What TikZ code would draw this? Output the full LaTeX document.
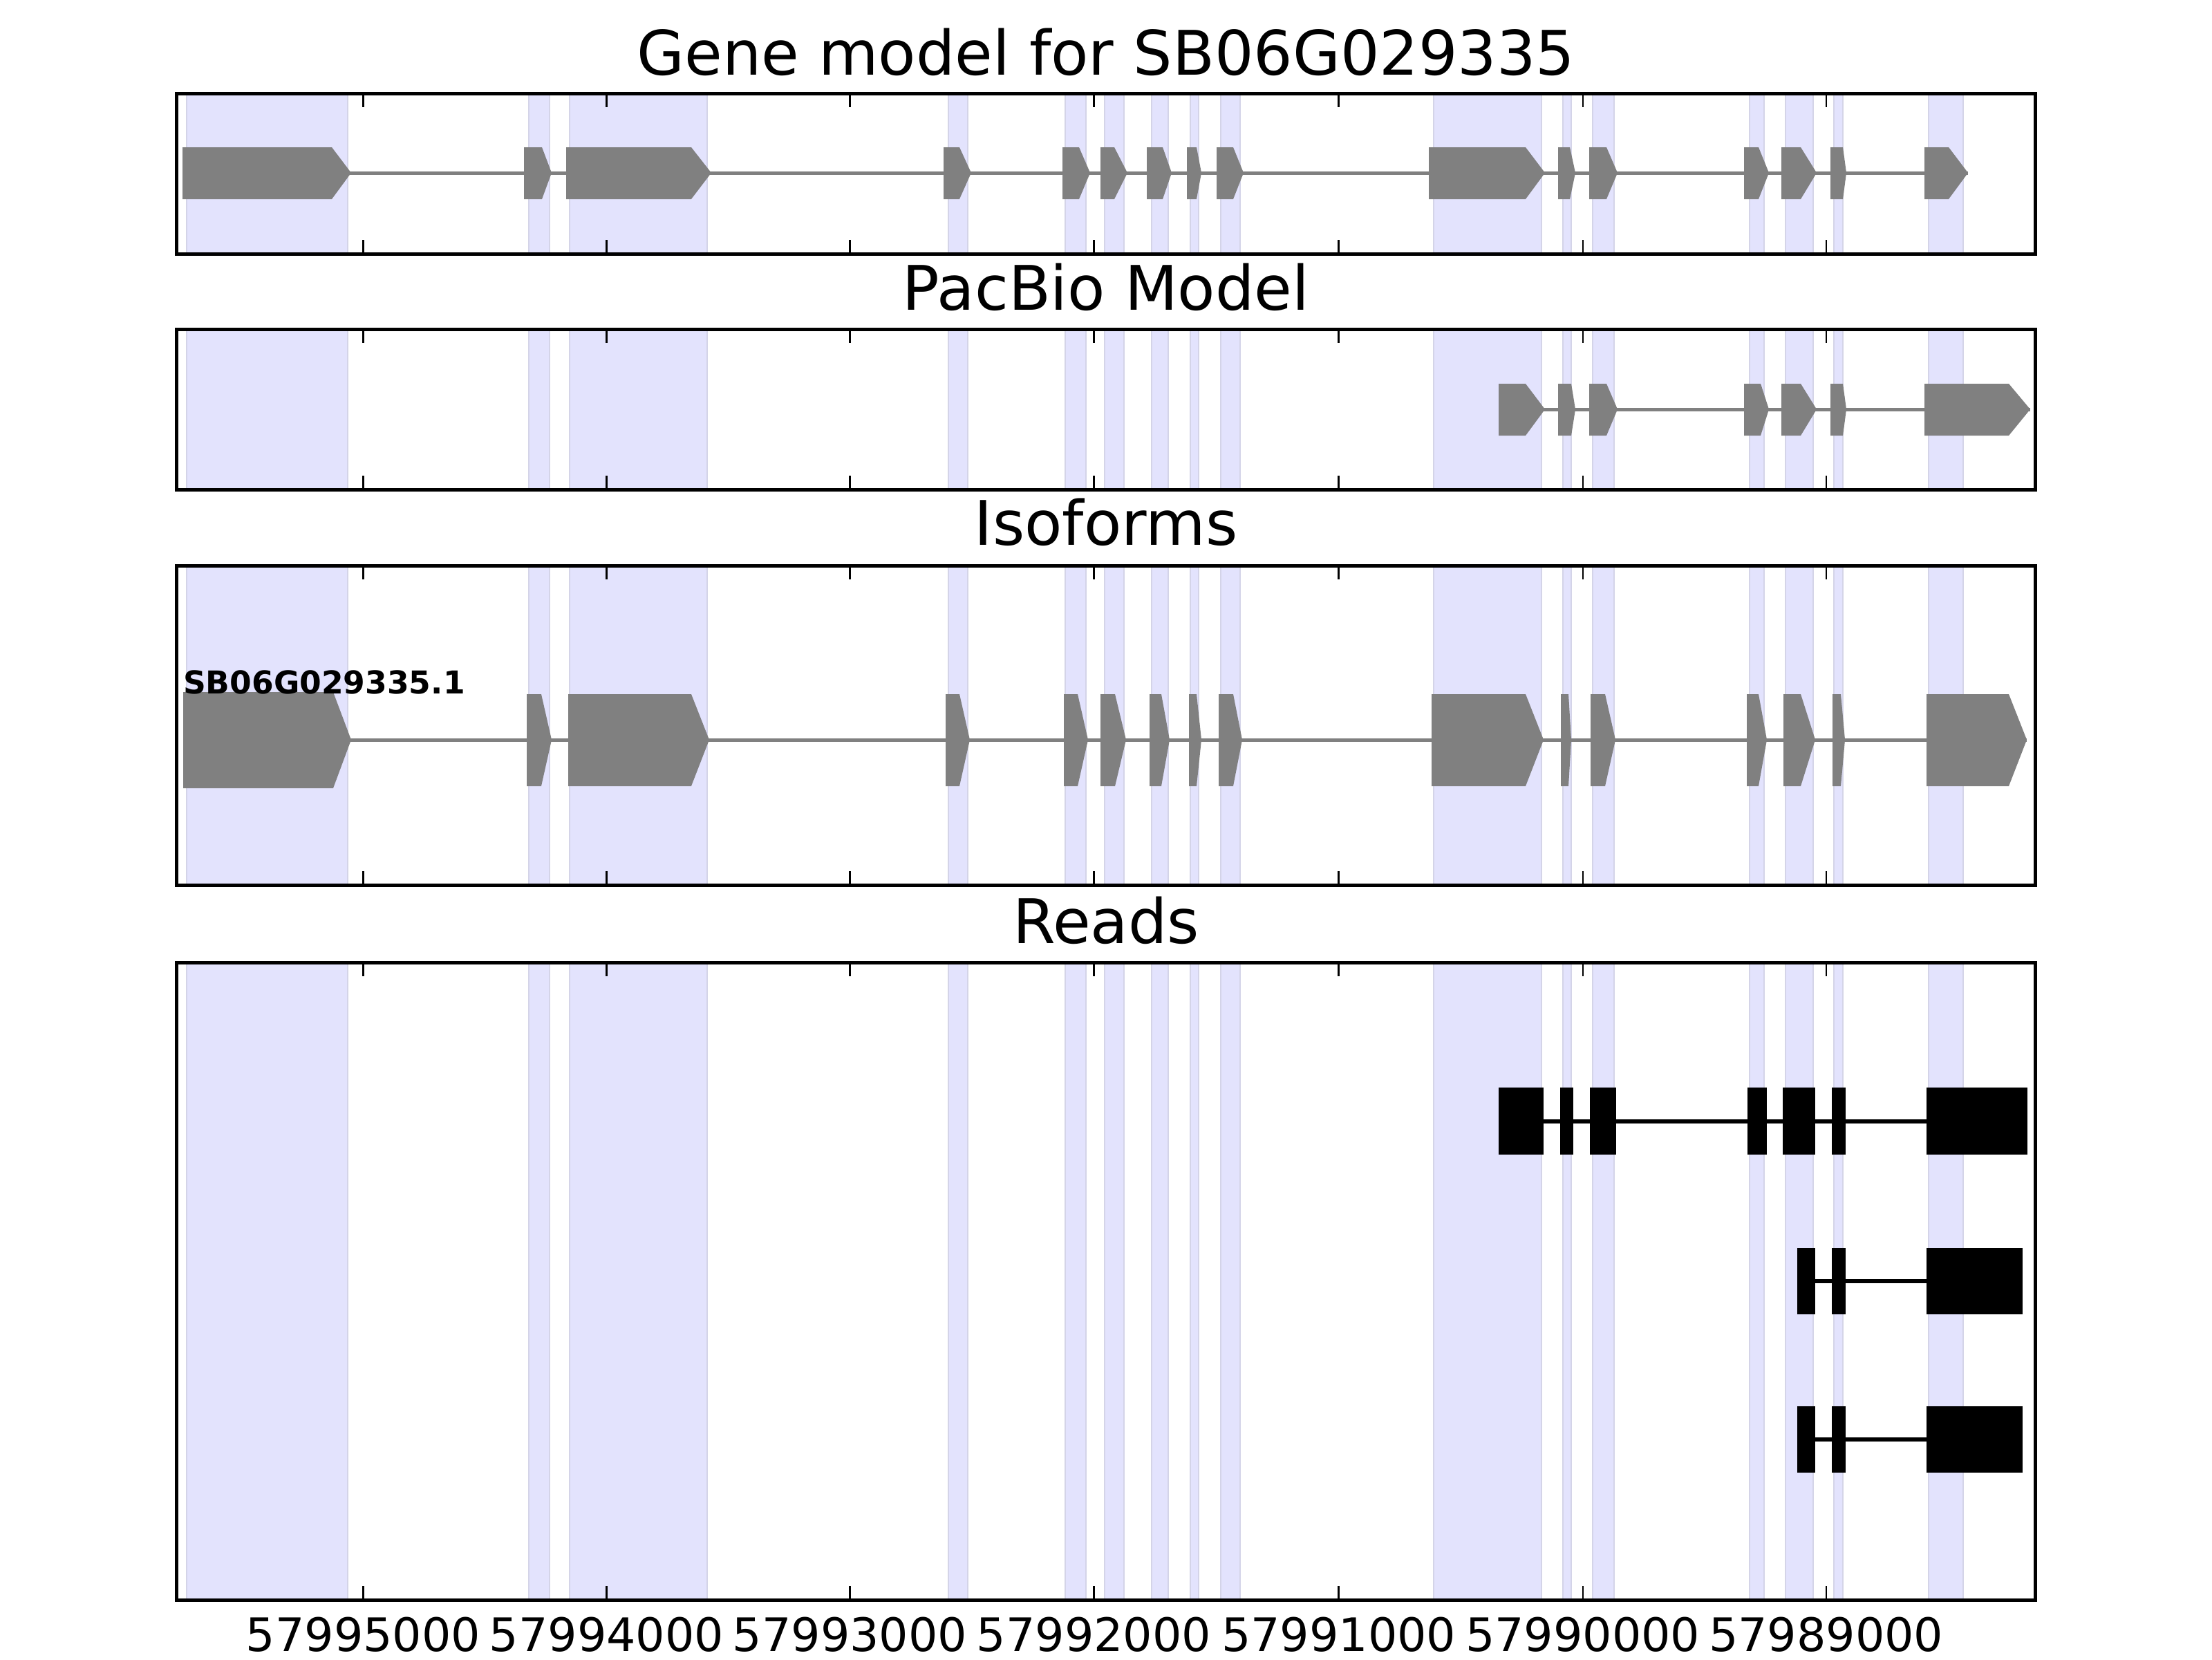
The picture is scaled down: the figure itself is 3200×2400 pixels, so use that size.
\documentclass[tikz,border=0pt]{standalone}
\usepackage{fontspec}
\setmainfont{DejaVu Sans}
\usetikzlibrary{positioning}

\definecolor{bandfill}{RGB}{227,227,253}
\definecolor{bandedge}{RGB}{212,212,232}
\definecolor{exongray}{RGB}{128,128,128}

\tikzset{
  band/.style={fill=bandfill, draw=bandedge, line width=0.45pt},
  exon/.style={fill=exongray},
  intron/.style={draw=exongray, line width=0.9pt},
  readexon/.style={fill=black},
  readline/.style={draw=black, line width=1.1pt},
  frame/.style={draw=black, line width=0.9pt},
  tickmark/.style={draw=black, line width=0.45pt},
  paneltitle/.style={anchor=base, inner sep=0pt, font=\fontsize{16}{19}\selectfont},
  ticklabel/.style={anchor=base, inner sep=0pt, font=\fontsize{12}{14}\selectfont},
  isolabel/.style={anchor=base west, inner sep=0pt, font=\bfseries\fontsize{8.2}{10}\selectfont}
}

\begin{document}
\begin{tikzpicture}[x=0.18pt,y=0.18pt,yscale=-1,xscale=1]
		\useasboundingbox (0,0) rectangle (3200,2400);
		
		%Shaded exon bands, same in every panel
		\foreach \ya/\yb in {135/367,476/708,818/1280,1392/2314}{
			\foreach \xa/\xb in {270/503,765/795,824/1023,1372/1400,1541/1571,1598/1626,1666/1690,1722/1734,1766/1794,2074/2230,2261/2273,2304/2335,2531/2552,2583/2623,2653/2666,2790/2840}{
				\path[band] (\xa,\ya) rectangle (\xb,\yb);
			}
		}
		
		%Panel 1: gene model
		\draw[intron] (264,250) -- (2847,250);
		\foreach \xa/\xb/\xc in {264/480/508,758/784/798,819/1000/1029,1365/1388/1405,1537/1561/1577,1592/1612/1631,1659/1682/1695,1717/1731/1738,1760/1784/1799,2067/2207/2235,2254/2271/2279,2299/2324/2340,2523/2544/2559,2577/2605/2628,2648/2666/2671,2784/2819/2847}{
			\fill[exon] (\xa,213) -- (\xb,213) -- (\xc,250) -- (\xb,288) -- (\xa,288) -- cycle;
		}
		
		%Panel 2: PacBio model
		\draw[intron] (2168,592) -- (2937,592);
		\foreach \xa/\xb/\xc in {2168/2207/2235,2254/2273/2279,2299/2324/2340,2523/2547/2559,2577/2605/2628,2648/2666/2671,2784/2906/2937}{
			\fill[exon] (\xa,555) -- (\xb,555) -- (\xc,592) -- (\xb,630) -- (\xa,630) -- cycle;
		}
		
		%Panel 3: isoforms
		\draw[intron] (265,1070) -- (2932,1070);
		\fill[exon] (265,1001) -- (482,1001) -- (508,1070) -- (482,1140) -- (265,1140) -- cycle;
		\foreach \xa/\xb/\xc in {762/783/798,822/1000/1026,1368/1388/1403,1539/1559/1574,1592/1613/1629,1663/1680/1692,1720/1731/1738,1763/1784/1797,2071/2207/2233,2258/2269/2273,2301/2322/2337,2527/2544/2556,2580/2605/2626,2651/2663/2669,2787/2906/2932}{
			\fill[exon] (\xa,1004) -- (\xb,1004) -- (\xc,1070) -- (\xb,1137) -- (\xa,1137) -- cycle;
		}
		\node[isolabel] (isoname) at (264,1003) {SB06G029335.1};
		
		%Panel 4: reads
		\draw[readline] (2168,1622) -- (2933,1622);
		\foreach \xa/\xb in {2168/2233,2257/2276,2300/2338,2528/2556,2579/2626,2650/2670,2787/2933}{
			\fill[readexon] (\xa,1573) rectangle (\xb,1670);
		}
		\foreach \yc in {1853,2082}{
			\draw[readline] (2600,\yc) -- (2926,\yc);
			\foreach \xa/\xb in {2600/2626,2650/2670,2787/2926}{
				\fill[readexon] (\xa,\yc-48) rectangle (\xb,\yc+48);
			}
		}
		
		%Frames and ticks
		\foreach \ya/\yb in {135/367,476/708,818/1280,1392/2314}{
			\foreach \t in {525.5,877.6,1229.6,1582.6,1936.7,2289.8,2641.8}{
				\draw[tickmark] (\t,\ya) -- (\t,\ya+20);
				\draw[tickmark] (\t,\yb) -- (\t,\yb-20);
			}
			\draw[frame] (255,\ya) rectangle (2944,\yb);
		}
		
		%Titles
		\node[paneltitle] (titlegene) at (1600,108) {Gene model for SB06G029335};
		\node[paneltitle] (titlepacbio) at (1600,448) {PacBio Model};
		\node[paneltitle] (titleiso) at (1600,788) {Isoforms};
		\node[paneltitle] (titlereads) at (1600,1364) {Reads};
		
		%Tick labels
		\foreach \t/\lab [count=\i] in {525.5/57995000,877.6/57994000,1229.6/57993000,1582.6/57992000,1936.7/57991000,2289.8/57990000,2641.8/57989000}{
			\node[ticklabel] (tlab\i) at (\t,2388) {\lab};
		}
		
	\end{tikzpicture}
\end{document}
